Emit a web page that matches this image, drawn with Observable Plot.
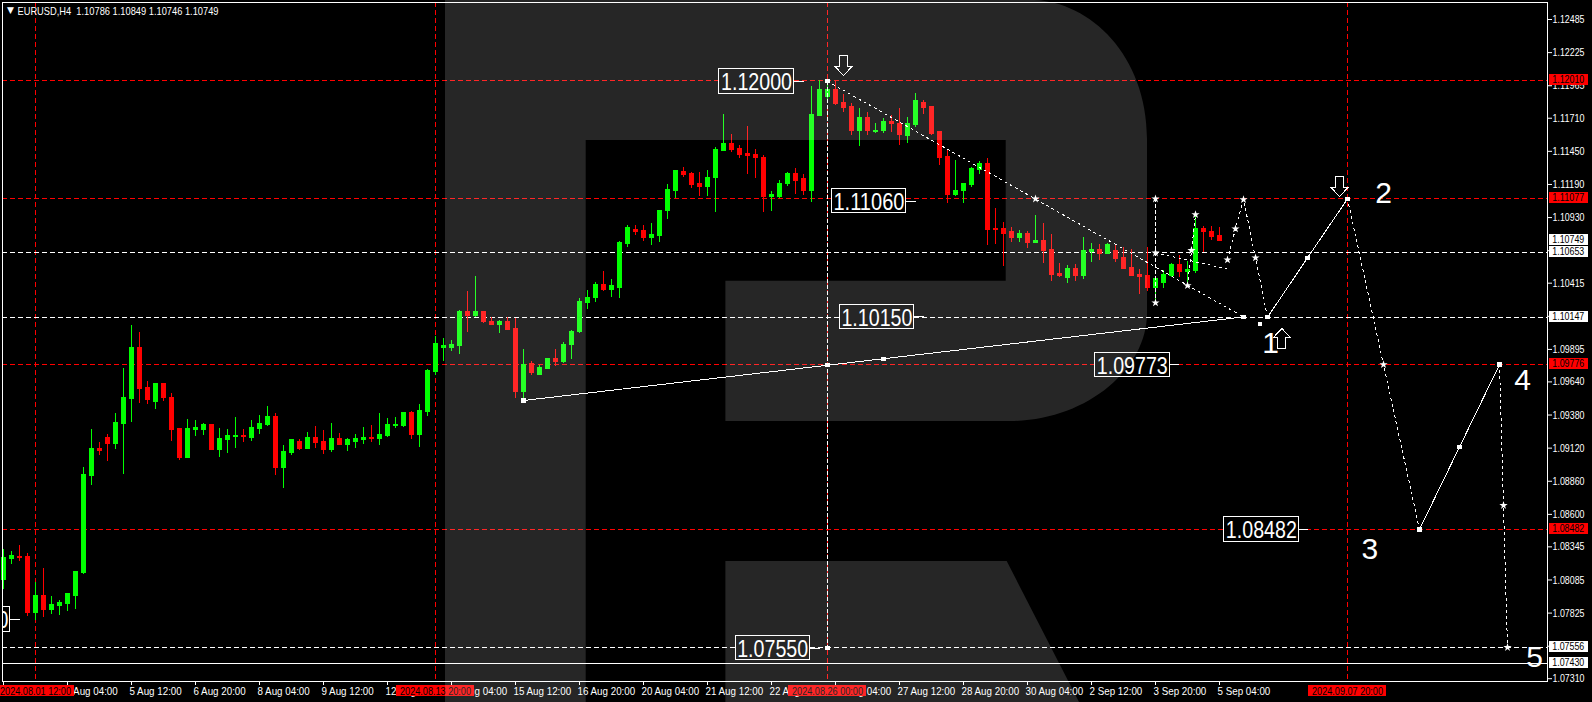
<!DOCTYPE html>
<html>
<head>
<meta charset="utf-8">
<script src="https://cdn.jsdelivr.net/npm/d3@7"></script>
<script src="https://cdn.jsdelivr.net/npm/@observablehq/plot@0.6"></script>
<style>
html,body{margin:0;padding:0;background:#000;overflow:hidden}
#wrap{position:relative;width:1592px;height:702px}
#wrap svg{display:block;position:absolute;left:0;top:0}
</style>
</head>
<body>
<div id="wrap"></div>
<script>
const opens=[1.08081,1.08246,1.08269,1.08269,1.07829,1.07963,1.07853,1.07884,1.07900,1.07963,
1.08136,1.08905,1.09117,1.09196,1.09156,1.09313,1.09502,1.09910,1.09596,1.09486,
1.09627,1.09517,1.09274,1.09046,1.09266,1.09266,1.09298,1.09109,1.09180,1.09211,
1.09219,1.09203,1.09274,1.09305,1.09368,1.08968,1.09078,1.09172,1.09117,1.09203,
1.09172,1.09109,1.09188,1.09141,1.09172,1.09180,1.09203,1.09188,1.09219,1.09290,
1.09290,1.09392,1.09227,1.09400,1.09714,1.09910,1.09910,1.09918,1.10192,1.10161,
1.10185,1.10114,1.10090,1.10114,1.10059,1.09557,1.09784,1.09698,1.09745,1.09823,
1.09800,1.09933,1.10028,1.10263,1.10295,1.10397,1.10365,1.10381,1.10726,1.10836,
1.10821,1.10766,1.10789,1.10978,1.11142,1.11284,1.11276,1.11190,1.11174,1.11244,
1.11456,1.11504,1.11472,1.11433,1.11425,1.11401,1.11095,1.11095,1.11190,1.11276,
1.11229,1.11135,1.11731,1.11873,1.11935,1.11833,1.11802,1.11606,1.11708,1.11598,
1.11606,1.11684,1.11668,1.11574,1.11653,1.11833,1.11802,1.11598,1.11409,1.11111,
1.11142,1.11182,1.11307,1.11354,1.10844,1.10844,1.10813,1.10766,1.10805,1.10734,
1.10750,1.10679,1.10491,1.10459,1.10530,1.10475,1.10663,1.10679,1.10648,1.10671,
1.10609,1.10538,1.10483,1.10475,1.10381,1.10420,1.10475,1.10561,1.10506,1.10514,
1.10844,1.10820,1.10786];
const highs=[1.08324,1.08308,1.08356,1.08293,1.08065,1.08175,1.07955,1.07924,1.07979,1.08151,
1.08968,1.09266,1.09164,1.09227,1.09392,1.09745,1.10083,1.10028,1.09643,1.09627,
1.09627,1.09549,1.09274,1.09345,1.09337,1.09313,1.09305,1.09274,1.09266,1.09360,
1.09266,1.09337,1.09376,1.09447,1.09392,1.09141,1.09188,1.09188,1.09243,1.09290,
1.09258,1.09313,1.09235,1.09196,1.09227,1.09282,1.09298,1.09392,1.09353,1.09360,
1.09392,1.09408,1.09462,1.09737,1.09996,1.09980,1.09965,1.10200,1.10349,1.10467,
1.10185,1.10145,1.10122,1.10145,1.10137,1.09894,1.09800,1.09768,1.09823,1.09894,
1.09949,1.10043,1.10295,1.10357,1.10420,1.10506,1.10444,1.10742,1.10868,1.10868,
1.10868,1.10883,1.10985,1.11190,1.11299,1.11323,1.11284,1.11284,1.11299,1.11480,
1.11739,1.11582,1.11496,1.11645,1.11464,1.11417,1.11135,1.11221,1.11284,1.11315,
1.11268,1.11959,1.12006,1.11990,1.12006,1.11896,1.11825,1.11786,1.11755,1.11668,
1.11708,1.11731,1.11786,1.11715,1.11904,1.11849,1.11802,1.11606,1.11456,1.11378,
1.11197,1.11323,1.11370,1.11394,1.11001,1.10891,1.10852,1.10828,1.10820,1.10946,
1.10883,1.10797,1.10569,1.10554,1.10561,1.10773,1.10726,1.10718,1.10726,1.10711,
1.10695,1.10679,1.10522,1.10695,1.10444,1.10514,1.10569,1.10632,1.10585,1.10946,
1.10860,1.10860,1.10849];
const lows=[1.08013,1.08206,1.08230,1.07798,1.07767,1.07790,1.07814,1.07806,1.07837,1.07853,
1.08128,1.08827,1.09062,1.09015,1.09109,1.08913,1.09321,1.09470,1.09462,1.09423,
1.09486,1.09172,1.09023,1.09046,1.09211,1.09219,1.09101,1.09046,1.09078,1.09117,
1.09164,1.09172,1.09227,1.09290,1.08905,1.08803,1.09062,1.09101,1.09109,1.09117,
1.09070,1.09086,1.09141,1.09093,1.09117,1.09148,1.09164,1.09141,1.09203,1.09274,
1.09282,1.09188,1.09125,1.09368,1.09690,1.09800,1.09878,1.09855,1.10028,1.10145,
1.10098,1.10083,1.10020,1.10043,1.09509,1.09509,1.09690,1.09690,1.09737,1.09761,
1.09782,1.09816,1.10020,1.10208,1.10263,1.10349,1.10302,1.10295,1.10695,1.10789,
1.10742,1.10711,1.10734,1.10915,1.11080,1.11244,1.11158,1.11095,1.11095,1.10970,
1.11449,1.11441,1.11394,1.11268,1.11237,1.10970,1.10978,1.11080,1.11174,1.11111,
1.11103,1.11048,1.11723,1.11849,1.11810,1.11755,1.11574,1.11488,1.11574,1.11590,
1.11590,1.11598,1.11496,1.11511,1.11637,1.11739,1.11574,1.11339,1.11040,1.11095,
1.11040,1.11166,1.11268,1.10711,1.10718,1.10546,1.10734,1.10734,1.10687,1.10726,
1.10569,1.10428,1.10459,1.10412,1.10428,1.10444,1.10577,1.10593,1.10648,1.10577,
1.10530,1.10475,1.10326,1.10349,1.10263,1.10373,1.10459,1.10459,1.10404,1.10491,
1.10656,1.10750,1.10746];
const closes=[1.08261,1.08277,1.08261,1.07829,1.07963,1.07853,1.07892,1.07908,1.07971,1.08144,
1.08913,1.09117,1.09101,1.09156,1.09321,1.09510,1.09910,1.09588,1.09494,1.09627,
1.09510,1.09266,1.09046,1.09274,1.09282,1.09298,1.09109,1.09188,1.09219,1.09219,
1.09211,1.09282,1.09313,1.09368,1.08968,1.09086,1.09180,1.09117,1.09203,1.09164,
1.09109,1.09188,1.09148,1.09180,1.09188,1.09203,1.09188,1.09227,1.09305,1.09298,
1.09392,1.09227,1.09408,1.09722,1.09934,1.09918,1.09926,1.10192,1.10161,1.10185,
1.10114,1.10090,1.10114,1.10051,1.09557,1.09776,1.09706,1.09753,1.09816,1.09800,
1.09933,1.10028,1.10271,1.10302,1.10397,1.10365,1.10389,1.10734,1.10852,1.10813,
1.10766,1.10797,1.10985,1.11150,1.11292,1.11268,1.11182,1.11174,1.11244,1.11464,
1.11511,1.11464,1.11425,1.11417,1.11394,1.11095,1.11111,1.11197,1.11276,1.11221,
1.11135,1.11739,1.11935,1.11935,1.11825,1.11794,1.11606,1.11715,1.11606,1.11613,
1.11684,1.11661,1.11582,1.11661,1.11849,1.11794,1.11590,1.11401,1.11111,1.11142,
1.11197,1.11315,1.11354,1.10836,1.10836,1.10805,1.10773,1.10805,1.10734,1.10750,
1.10671,1.10483,1.10475,1.10530,1.10475,1.10671,1.10679,1.10648,1.10718,1.10601,
1.10530,1.10475,1.10467,1.10381,1.10444,1.10483,1.10561,1.10506,1.10522,1.10844,
1.10813,1.10781,1.10749];

const yTickValues=[1.12485,1.12225,1.11965,1.11710,1.11450,1.11190,1.10930,1.10670,1.10415,1.10155,1.09895,1.09640,1.09380,1.09120,1.08860,1.08600,1.08345,1.08085,1.07825,1.07565,1.07310];
const xTickBars=[0,8,16,24,32,40,48,56,64,72,80,88,96,104,112,120,128,136,144,152];
const xTickLabels=["31 Jul 20:00","2 Aug 04:00","5 Aug 12:00","6 Aug 20:00","8 Aug 04:00","9 Aug 12:00","12 Aug 20:00","14 Aug 04:00","15 Aug 12:00","16 Aug 20:00","20 Aug 04:00","21 Aug 12:00","22 Aug 20:00","26 Aug 04:00","27 Aug 12:00","28 Aug 20:00","30 Aug 04:00","2 Sep 12:00","3 Sep 20:00","5 Sep 04:00"];

const redLevels=[1.12010,1.11077,1.09776,1.08482];
const whiteDashLevels=[1.10653,1.10147,1.07556];
const whiteSolidLevels=[1.07430];
const whiteBoxLevels=[1.10749,1.10653,1.10147,1.07556,1.07430];
const redTimeBars=[4,54,103,168];
const redTimeLabels=["2024.08.01 12:00","2024.08.13 20:00","2024.08.26 00:00","2024.09.07 20:00"];

const boxLabelText=["1.12000","1.11060","1.10150","1.09773","1.08482","1.07550","1.07770"];
const boxLabelPrice=[1.12000,1.11060,1.10150,1.09773,1.08482,1.07550,1.07773];
const boxLabelRightBar=[98.78,112.83,113.83,145.75,161.88,100.8,0.83];

const solidA=[[65,1.09494],[110,1.09822],[155,1.10150]];
const solidB=[[158,1.10147],[163,1.10614],[168,1.11077]];
const solidC=[[177,1.08482],[182,1.09129],[187,1.09776]];
const dottedPaths=[
 [[103,1.12000],[155,1.10150]],
 [[168,1.11077],[172.5,1.09776],[177,1.08482]],
 [[187,1.09776],[187.5,1.08670],[188,1.07556]],
 [[144,1.10653],[152.9,1.10528]],
 [[148,1.10397],[148.5,1.10672],[149,1.10954]],
 [[153,1.10599],[154,1.10842],[155,1.11072],[156.5,1.10614],[158,1.10147]]
];
const dashedPaths=[
 [[144,1.11077],[144,1.10653],[144,1.10261]],
 [[103,1.12000],[103,1.07550]]
];
const squareBars=[65,103,103,103,110,155,158,157.1,163,168,177,182,187];
const squarePrices=[1.09494,1.12000,1.09773,1.07550,1.09822,1.10150,1.10147,1.10096,1.10614,1.11077,1.08482,1.09129,1.09776];
const starBars=[129,148,148.5,149,144,144,144,153,154,155,156.5,172.5,187.5,188];
const starPrices=[1.11077,1.10397,1.10672,1.10954,1.11077,1.10653,1.10261,1.10599,1.10842,1.11072,1.10614,1.09776,1.08670,1.07556];

const waveText=["1","2","3","4","5"];
const waveBars=[158.4,172.5,170.8,189.9,191.4];
const wavePrices=[1.09942,1.11119,1.08325,1.09651,1.07477];
const arrowDownPoints=[[167,1.11174],[105,1.12124]];
const arrowUpPoints=[[159.8,1.09981]];

const bars=d3.range(opens.length);
const upColor="#00ff00", downColor="#ff0000";
const isUp=i=>closes[i]>=opens[i];
const colorOf=i=>isUp(i)?upColor:downColor;
const pointsOf=(xs,ys)=>xs.map((x,i)=>[x,ys[i]]);
const boxH=0.00096, boxBars=9.3, pxPrice=0.0000785;
const crisp={shapeRendering:"crispEdges"};
const bottomP=1.07288;
const hollowArrow=sign=>({draw(c){
  const p=[[-4,-10],[4,-10],[4,1],[8.5,1],[0,10],[-8.5,1],[-4,1]];
  p.forEach(([a,b],i)=>i?c.lineTo(a,b*sign):c.moveTo(a,b*sign));
  c.closePath();
}});

const line=(pts,opts)=>Plot.line(pts,{x:d=>d[0],y:d=>d[1],stroke:"#fff",strokeWidth:1,curve:"linear",...opts});

const chart=Plot.plot({
  width:1592,height:702,
  marginLeft:2,marginRight:45,marginTop:2,marginBottom:21,
  x:{type:"linear",domain:[-1/8,1544/8],axis:null},
  y:{type:"linear",domain:[bottomP,1.126185],axis:null},
  style:{background:"#000",color:"#fff",fontFamily:'"Liberation Sans",sans-serif',fontSize:"11px"},
  marks:[
    Plot.ruleY(redLevels,{y:d=>d,stroke:"#ff0000",strokeDasharray:"5,3",...crisp}),
    Plot.ruleX(redTimeBars,{x:d=>d,stroke:"#ff0000",strokeDasharray:"5,3",...crisp}),
    Plot.ruleY(whiteDashLevels,{y:d=>d,stroke:"#fff",strokeDasharray:"5,3",...crisp}),
    Plot.ruleY(whiteSolidLevels,{y:d=>d,stroke:"#fff",...crisp}),
    Plot.ruleX(bars,{x:i=>i,y1:i=>lows[i],y2:i=>highs[i],stroke:colorOf,strokeWidth:1,...crisp}),
    Plot.ruleX(bars,{x:i=>i,y1:i=>Math.min(opens[i],closes[i])-pxPrice/2,y2:i=>Math.max(opens[i],closes[i])+pxPrice/2,stroke:colorOf,strokeWidth:5,...crisp}),
    line(solidA,crisp),line(solidB,crisp),line(solidC,crisp),
    ...dottedPaths.map(p=>line(p,{strokeDasharray:"2,4",...crisp})),
    ...dashedPaths.map(p=>line(p,{strokeDasharray:"3,3",...crisp})),
    Plot.dot(pointsOf(squareBars,squarePrices),{x:d=>d[0],y:d=>d[1],symbol:"square",r:2.4,fill:"#fff",stroke:"none",...crisp}),
    Plot.dot(pointsOf(starBars,starPrices),{x:d=>d[0],y:d=>d[1],symbol:"star",r:2.6,fill:"#fff",stroke:"none"}),
    Plot.rect(boxLabelPrice.map((p,i)=>i),{x1:i=>boxLabelRightBar[i]-boxBars,x2:i=>boxLabelRightBar[i],y1:i=>boxLabelPrice[i]-boxH,y2:i=>boxLabelPrice[i]+boxH,fill:"#000",stroke:"#fff",clip:"frame",...crisp}),
    Plot.ruleY(boxLabelPrice.map((p,i)=>i),{y:i=>boxLabelPrice[i],x1:i=>boxLabelRightBar[i],x2:i=>boxLabelRightBar[i]+1.3,stroke:"#fff",clip:"frame",...crisp}),
    Plot.text(boxLabelPrice.map((p,i)=>i),{text:i=>boxLabelText[i],x:i=>boxLabelRightBar[i]-boxBars/2,y:i=>boxLabelPrice[i],fill:"#fff",fontSize:24,textAnchor:"middle",lineAnchor:"middle",dy:1,clip:"frame"}),
    Plot.text(waveText,{text:d=>d,x:(d,i)=>waveBars[i],y:(d,i)=>wavePrices[i],fill:"#fff",fontSize:30,lineAnchor:"middle"}),
    Plot.dot(arrowDownPoints,{x:d=>d[0],y:d=>d[1],symbol:hollowArrow(1),fill:"none",stroke:"#fff",strokeWidth:1,...crisp}),
    Plot.dot(arrowUpPoints,{x:d=>d[0],y:d=>d[1],symbol:hollowArrow(-1),fill:"none",stroke:"#fff",strokeWidth:1,...crisp}),
    Plot.frame({stroke:"#fff",...crisp}),
    Plot.axisY(yTickValues,{anchor:"right",tickSize:4,tickPadding:1,tickFormat:d=>d.toFixed(5),label:null,stroke:"#fff",fill:"#fff",fontSize:11}),
    Plot.ruleY(redLevels,{y:d=>d,x1:193.2,x2:198.1,stroke:"#ff0000",strokeWidth:11,dy:-1,...crisp}),
    Plot.ruleY(whiteBoxLevels,{y:d=>d,x1:193.2,x2:198.1,stroke:"#fff",strokeWidth:11,dy:-1,...crisp}),
    Plot.text(redLevels.concat(whiteBoxLevels),{text:d=>d.toFixed(5),x:193.6,y:d=>d,textAnchor:"start",fill:"#000",fontSize:11,lineAnchor:"middle",dy:-1}),
    Plot.ruleX(xTickBars,{x:d=>d,y1:bottomP,y2:bottomP-4*pxPrice,stroke:"#fff",...crisp}),
    Plot.text(xTickLabels,{text:d=>d,x:(d,i)=>xTickBars[i],frameAnchor:"bottom",dy:10,dx:-2,textAnchor:"start",fill:"#fff",fontSize:11,lineAnchor:"middle"}),
    Plot.rect(redTimeBars,{x1:d=>d-4.875,x2:d=>d+4.875,y1:bottomP-4.5*pxPrice,y2:bottomP-15*pxPrice,fill:"#ff0000",...crisp}),
    Plot.text(redTimeLabels,{text:d=>d,x:(d,i)=>redTimeBars[i],frameAnchor:"bottom",dy:10,fill:"#000",fontSize:11,lineAnchor:"middle"}),
    Plot.text(["\u25BC"],{frameAnchor:"top-left",dx:4.5,dy:8,fontFamily:"DejaVu Sans",fontSize:9,fill:"#fff",lineAnchor:"middle"}),
    Plot.text(["EURUSD,H4\u00A0\u00A01.10786 1.10849 1.10746 1.10749"],{frameAnchor:"top-left",dx:15,dy:8.5,fill:"#fff",fontSize:11,lineAnchor:"middle"})
  ]
});
const wrap=document.getElementById("wrap");
wrap.appendChild(chart);
// Condense the text to the narrow terminal font of the reference, keeping it as real text.
wrap.querySelectorAll("text").forEach(t=>{
  const s=t.textContent, big=parseFloat(getComputedStyle(t).fontSize)>=20;
  let len=null;
  if(/^\d\.\d{5}$/.test(s)) len=big?71:32;
  else if(/^2024\./.test(s)) len=71;
  else if(/^EURUSD/.test(s)) len=201;
  else if(/^\d+ \w+ \d\d:\d\d$/.test(s)) len=t.getComputedTextLength()*0.89;
  if(len){t.setAttribute("textLength",len);t.setAttribute("lengthAdjust","spacingAndGlyphs");}
});
wrap.insertAdjacentHTML("beforeend",`<svg width="1592" height="702" viewBox="0 0 1592 702" style="pointer-events:none"><path fill="#fff" fill-opacity="0.15" d="M445 0H1034C1090 2 1147 55 1147 139V313C1147 370 1085 421 1010 421H725.4V280.7H1005.7V140H585.7V702H445ZM725.4 561H1006.7L1079 702H725.4Z"/></svg>`);
</script>
</body>
</html>
